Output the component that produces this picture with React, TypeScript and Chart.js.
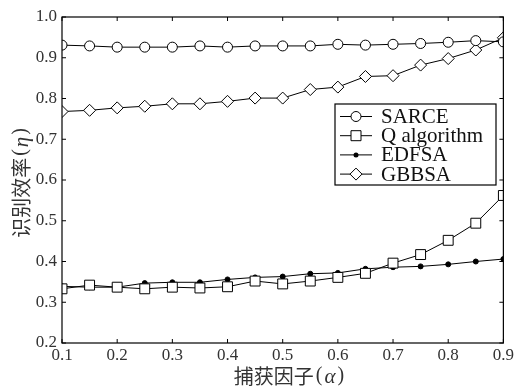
import React, { useEffect, useRef } from "react";
import { Chart, registerables } from "chart.js";

Chart.register(...registerables);

const xValues = [0.1, 0.15, 0.2, 0.25, 0.3, 0.35, 0.4, 0.45, 0.5, 0.55, 0.6, 0.65, 0.7, 0.75, 0.8, 0.85, 0.9];
const sarce = [0.931, 0.929, 0.926, 0.926, 0.926, 0.929, 0.926, 0.929, 0.929, 0.929, 0.933, 0.931, 0.933, 0.935, 0.938, 0.942, 0.939];
const qAlgorithm = [0.333, 0.342, 0.337, 0.333, 0.337, 0.335, 0.338, 0.352, 0.345, 0.352, 0.361, 0.371, 0.396, 0.417, 0.452, 0.494, 0.562];
const edfsa = [0.339, 0.337, 0.337, 0.347, 0.349, 0.349, 0.356, 0.361, 0.363, 0.370, 0.372, 0.382, 0.386, 0.388, 0.393, 0.400, 0.406];
const gbbsa = [0.768, 0.771, 0.777, 0.781, 0.787, 0.787, 0.793, 0.801, 0.801, 0.822, 0.828, 0.854, 0.856, 0.882, 0.898, 0.919, 0.949];
const seriesNames = ["SARCE", "Q algorithm", "EDFSA", "GBBSA"];
const xTitleMain = "捕获因子";
const xTitleSym = "α";
const yTitleMain = "识别效率";
const yTitleSym = "η";

const SERIF = "\"Liberation Serif\", \"Times New Roman\", serif";
const CJK = "\"Noto Sans CJK SC\"";

function drawMarker(ctx: CanvasRenderingContext2D, kind: string, x: number, y: number) {
  ctx.save();
  ctx.lineWidth = 1;
  ctx.strokeStyle = "#000";
  ctx.fillStyle = "#fff";
  ctx.beginPath();
  if (kind === "circle") {
    ctx.arc(x, y, 5, 0, Math.PI * 2);
    ctx.fill();
    ctx.stroke();
  } else if (kind === "rect") {
    ctx.rect(x - 5, y - 5, 10, 10);
    ctx.fill();
    ctx.stroke();
  } else if (kind === "dot") {
    ctx.fillStyle = "#000";
    ctx.arc(x, y, 2.5, 0, Math.PI * 2);
    ctx.fill();
  } else {
    ctx.moveTo(x, y - 6);
    ctx.lineTo(x + 6, y);
    ctx.lineTo(x, y + 6);
    ctx.lineTo(x - 6, y);
    ctx.closePath();
    ctx.fill();
    ctx.stroke();
  }
  ctx.restore();
}

const framePlugin = {
  id: "frameDeco",
  afterDraw(chart: any) {
    const ctx: CanvasRenderingContext2D = chart.ctx;
    const { left, right, top, bottom } = chart.chartArea;
    const xs = chart.scales.x;
    const ys = chart.scales.y;
    ctx.save();
    ctx.strokeStyle = "#000";
    ctx.lineWidth = 1.2;
    ctx.strokeRect(left, top, right - left, bottom - top);
    ctx.lineWidth = 1;
    ctx.beginPath();
    xs.ticks.forEach((t: any) => {
      const px = xs.getPixelForValue(t.value);
      ctx.moveTo(px, bottom);
      ctx.lineTo(px, bottom - 4);
      ctx.moveTo(px, top);
      ctx.lineTo(px, top + 4);
    });
    ys.ticks.forEach((t: any) => {
      const py = ys.getPixelForValue(t.value);
      ctx.moveTo(left, py);
      ctx.lineTo(left + 4, py);
      ctx.moveTo(right, py);
      ctx.lineTo(right - 4, py);
    });
    ctx.stroke();

    // axis titles
    ctx.fillStyle = "#333";
    ctx.textBaseline = "middle";
    const drawTitle = (main: string, sym: string, cx: number, cy: number, rot: number) => {
      ctx.save();
      ctx.translate(cx, cy);
      ctx.rotate(rot);
      const fMain = `20px ${CJK}`;
      const fPar = `20px ${SERIF}`;
      const fSym = `italic 21px ${SERIF}`;
      const parts: [string, string, number, number][] = [
        [main, fMain, 0, 2],
        ["(", fPar, 0, 2],
        [sym, fSym, 1, 2],
        [")", fPar, 0, 0],
      ];
      let total = 0;
      parts.forEach(([t, f, , gap]) => {
        ctx.font = f;
        total += ctx.measureText(t).width + gap;
      });
      let x0 = -total / 2;
      ctx.textAlign = "left";
      parts.forEach(([t, f, dy, gap]) => {
        ctx.font = f;
        ctx.fillText(t, x0, dy);
        x0 += ctx.measureText(t).width + gap;
      });
      ctx.restore();
    };
    drawTitle(xTitleMain, xTitleSym, 289, 376, 0);
    drawTitle(yTitleMain, yTitleSym, 21, 183, -Math.PI / 2);

    // legend
    const bx = 335, by = 104, bw = 161, bh = 81;
    ctx.fillStyle = "#fff";
    ctx.fillRect(bx, by, bw, bh);
    ctx.lineWidth = 1.2;
    ctx.strokeStyle = "#000";
    ctx.strokeRect(bx, by, bw, bh);
    const kinds = ["circle", "rect", "dot", "diamond"];
    seriesNames.forEach((name, i) => {
      const cy = 116.5 + i * 19.2;
      ctx.beginPath();
      ctx.lineWidth = 1;
      ctx.moveTo(340, cy);
      ctx.lineTo(372, cy);
      ctx.stroke();
      drawMarker(ctx, kinds[i], 356, cy);
      ctx.fillStyle = "#111";
      ctx.font = `21px ${SERIF}`;
      ctx.textAlign = "left";
      ctx.textBaseline = "middle";
      ctx.fillText(name, 381, cy + 1);
    });
    ctx.restore();
  },
};

export default function App() {
  const ref = useRef<HTMLCanvasElement>(null);
  useEffect(() => {
    if (!ref.current) return;
    let chart: any = null;
    let cancelled = false;
    const mk = (vals: number[]) => vals.map((v, i) => ({ x: xValues[i], y: v }));
    const base = {
      borderColor: "#000",
      borderWidth: 1,
      pointBorderColor: "#000",
      pointBorderWidth: 1,
      tension: 0,
    };
    const build = () => {
      if (cancelled || !ref.current) return;
      chart = new Chart(ref.current, {
        type: "line",
        data: {
          datasets: [
            { ...base, label: seriesNames[0], data: mk(sarce), pointStyle: "circle", pointRadius: 5, pointBackgroundColor: "#fff" },
            { ...base, label: seriesNames[1], data: mk(qAlgorithm), pointStyle: "rect", pointRadius: 7, pointBackgroundColor: "#fff" },
            { ...base, label: seriesNames[2], data: mk(edfsa), pointStyle: "circle", pointRadius: 2.5, pointBackgroundColor: "#000" },
            { ...base, label: seriesNames[3], data: mk(gbbsa), pointStyle: "rectRot", pointRadius: 6, pointBackgroundColor: "#fff" },
          ],
        },
        options: {
          responsive: false,
          animation: false,
          layout: { padding: { left: 0, top: 17, right: 10, bottom: 0 } },
          plugins: { legend: { display: false }, tooltip: { enabled: false } },
          scales: {
            x: {
              type: "linear",
              min: 0.1,
              max: 0.9,
              grid: { display: false, drawTicks: false },
              border: { display: false },
              afterFit: (s: any) => { s.height = 44; },
              ticks: {
                stepSize: 0.1,
                padding: 2,
                color: "#333",
                font: { family: SERIF, size: 17 },
                callback: (v: any) => Number(v).toFixed(1),
                maxRotation: 0,
                autoSkip: false,
              },
            },
            y: {
              type: "linear",
              min: 0.2,
              max: 1.0,
              grid: { display: false, drawTicks: false },
              border: { display: false },
              afterFit: (s: any) => { s.width = 62; },
              ticks: {
                stepSize: 0.1,
                padding: 5,
                color: "#333",
                font: { family: SERIF, size: 17 },
                callback: (v: any) => Number(v).toFixed(1),
                autoSkip: false,
              },
            },
          },
        },
        plugins: [framePlugin],
      });
    };
    const fonts: any = (document as any).fonts;
    if (fonts && fonts.load) {
      Promise.all([
        fonts.load("16px \"Liberation Serif\""),
        fonts.load("italic 16px \"Liberation Serif\""),
        fonts.load("17px \"Noto Sans CJK SC\"", "识别"),
      ]).then(build, build);
    } else {
      build();
    }
    return () => {
      cancelled = true;
      if (chart) chart.destroy();
    };
  }, []);
  return (
    <div style={{ position: "absolute", left: 0, top: 0, width: 516, height: 387, background: "#fff" }}>
      <canvas ref={ref} width={516} height={387} style={{ display: "block" }} />
    </div>
  );
}
